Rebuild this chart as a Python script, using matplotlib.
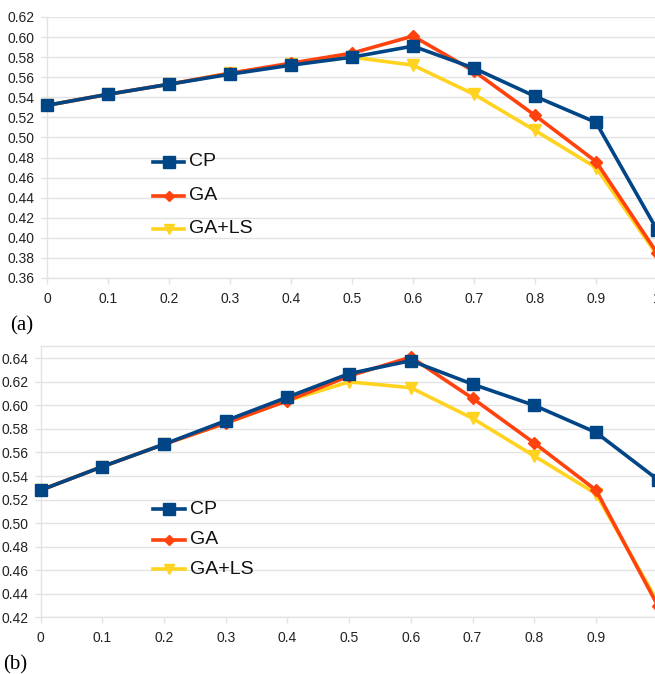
import matplotlib
matplotlib.use("Agg")
import matplotlib.pyplot as plt
from matplotlib.lines import Line2D

x = [0, 0.1, 0.2, 0.3, 0.4, 0.5, 0.6, 0.7, 0.8, 0.9, 1.0]

a_cp = [0.532, 0.543, 0.553, 0.563, 0.572, 0.580, 0.591, 0.569, 0.541, 0.515, 0.408]
a_ga = [0.532, 0.543, 0.553, 0.564, 0.574, 0.584, 0.601, 0.566, 0.522, 0.476, 0.385]
a_gals = [0.532, 0.543, 0.553, 0.564, 0.573, 0.580, 0.572, 0.543, 0.507, 0.470, 0.383]

b_cp = [0.528, 0.548, 0.567, 0.587, 0.607, 0.627, 0.638, 0.618, 0.600, 0.577, 0.537]
b_ga = [0.528, 0.548, 0.567, 0.585, 0.604, 0.625, 0.641, 0.606, 0.568, 0.528, 0.430]
b_gals = [0.528, 0.548, 0.567, 0.585, 0.604, 0.620, 0.615, 0.589, 0.557, 0.525, 0.433]

xticks = [0, 0.1, 0.2, 0.3, 0.4, 0.5, 0.6, 0.7, 0.8, 0.9, 1]
xticklabels = ["0", "0.1", "0.2", "0.3", "0.4", "0.5", "0.6", "0.7", "0.8", "0.9", "1"]
labels = ["CP", "GA", "GA+LS"]

C_CP = "#004586"
C_GA = "#ff420e"
C_LS = "#ffd320"
GRID = "#e3e3e3"

plt.rcParams["font.family"] = ["Liberation Sans", "DejaVu Sans"]

fig = plt.figure(figsize=(6.55, 6.74), dpi=100)
W, H = 655, 674


def px_axes(left, top, right, bottom):
    return fig.add_axes([left / W, (H - bottom) / H, (right - left) / W, (bottom - top) / H])


def style(ax, ylo, yhi, yticks):
    ax.set_xlim(0, 1)
    ax.set_ylim(ylo, yhi)
    ax.set_xticks(xticks)
    ax.set_xticklabels(xticklabels)
    ax.set_yticks(yticks)
    ax.set_yticklabels(["%.2f" % v for v in yticks])
    ax.grid(axis="y", color=GRID, linewidth=1.0)
    ax.set_axisbelow(True)
    for s in ["left", "bottom", "top"]:
        ax.spines[s].set_color(GRID)
        ax.spines[s].set_linewidth(1.0)
    ax.spines["right"].set_visible(False)
    ax.tick_params(axis="both", colors=GRID, length=4, width=1.0, labelsize=10,
                   labelcolor="#222222")
    ax.tick_params(axis="y", pad=5)
    ax.tick_params(axis="x", pad=6)


def draw(ax, cp, ga, ls):
    ax.plot(x, ls, color=C_LS, lw=2.6, marker="v", ms=8, zorder=3, clip_on=False)
    ax.plot(x, ga, color=C_GA, lw=2.6, marker="D", ms=6, zorder=4, clip_on=False)
    ax.plot(x, cp, color=C_CP, lw=2.6, marker="s", ms=8.5, zorder=5, clip_on=False)


# top panel
ax1 = px_axes(47, 17, 657, 278)
yt1 = [0.36 + 0.02 * i for i in range(14)]
style(ax1, 0.36, 0.62, yt1)
ax1.spines["top"].set_visible(False)
draw(ax1, a_cp, a_ga, a_gals)

# bottom panel
ax2 = px_axes(40.7, 345.7, 657.7, 617.3)
yt2 = [0.42 + 0.02 * i for i in range(12)]
style(ax2, 0.42, 0.6507, yt2)
draw(ax2, b_cp, b_ga, b_gals)


def legend(ys, x0, x1):
    specs = [(C_CP, "s", 8.5), (C_GA, "D", 5.5), (C_LS, "v", 7.5)]
    for (c, m, ms), y, lab in zip(specs, ys, labels):
        yf = (H - y) / H
        fig.add_artist(Line2D([x0 / W, x1 / W], [yf, yf], color=c, lw=2.6))
        fig.add_artist(Line2D([(x0 + x1) / 2 / W], [yf], color=c, marker=m, ms=ms, lw=0))
        fig.text((x1 + 5) / W, yf, lab, fontsize=14, va="center", ha="left", color="#111111")


legend([161.5, 195.5, 228.5], 153, 184)
legend([509, 540, 569], 153, 185)

fig.text(10 / W, (H - 326) / H, "(a)", fontsize=15, family=["Liberation Serif", "DejaVu Serif"],
         va="center", ha="left")
fig.text(3 / W, (H - 665) / H, "(b)", fontsize=15, family=["Liberation Serif", "DejaVu Serif"],
         va="center", ha="left")

fig.savefig("out.png", dpi=100)
